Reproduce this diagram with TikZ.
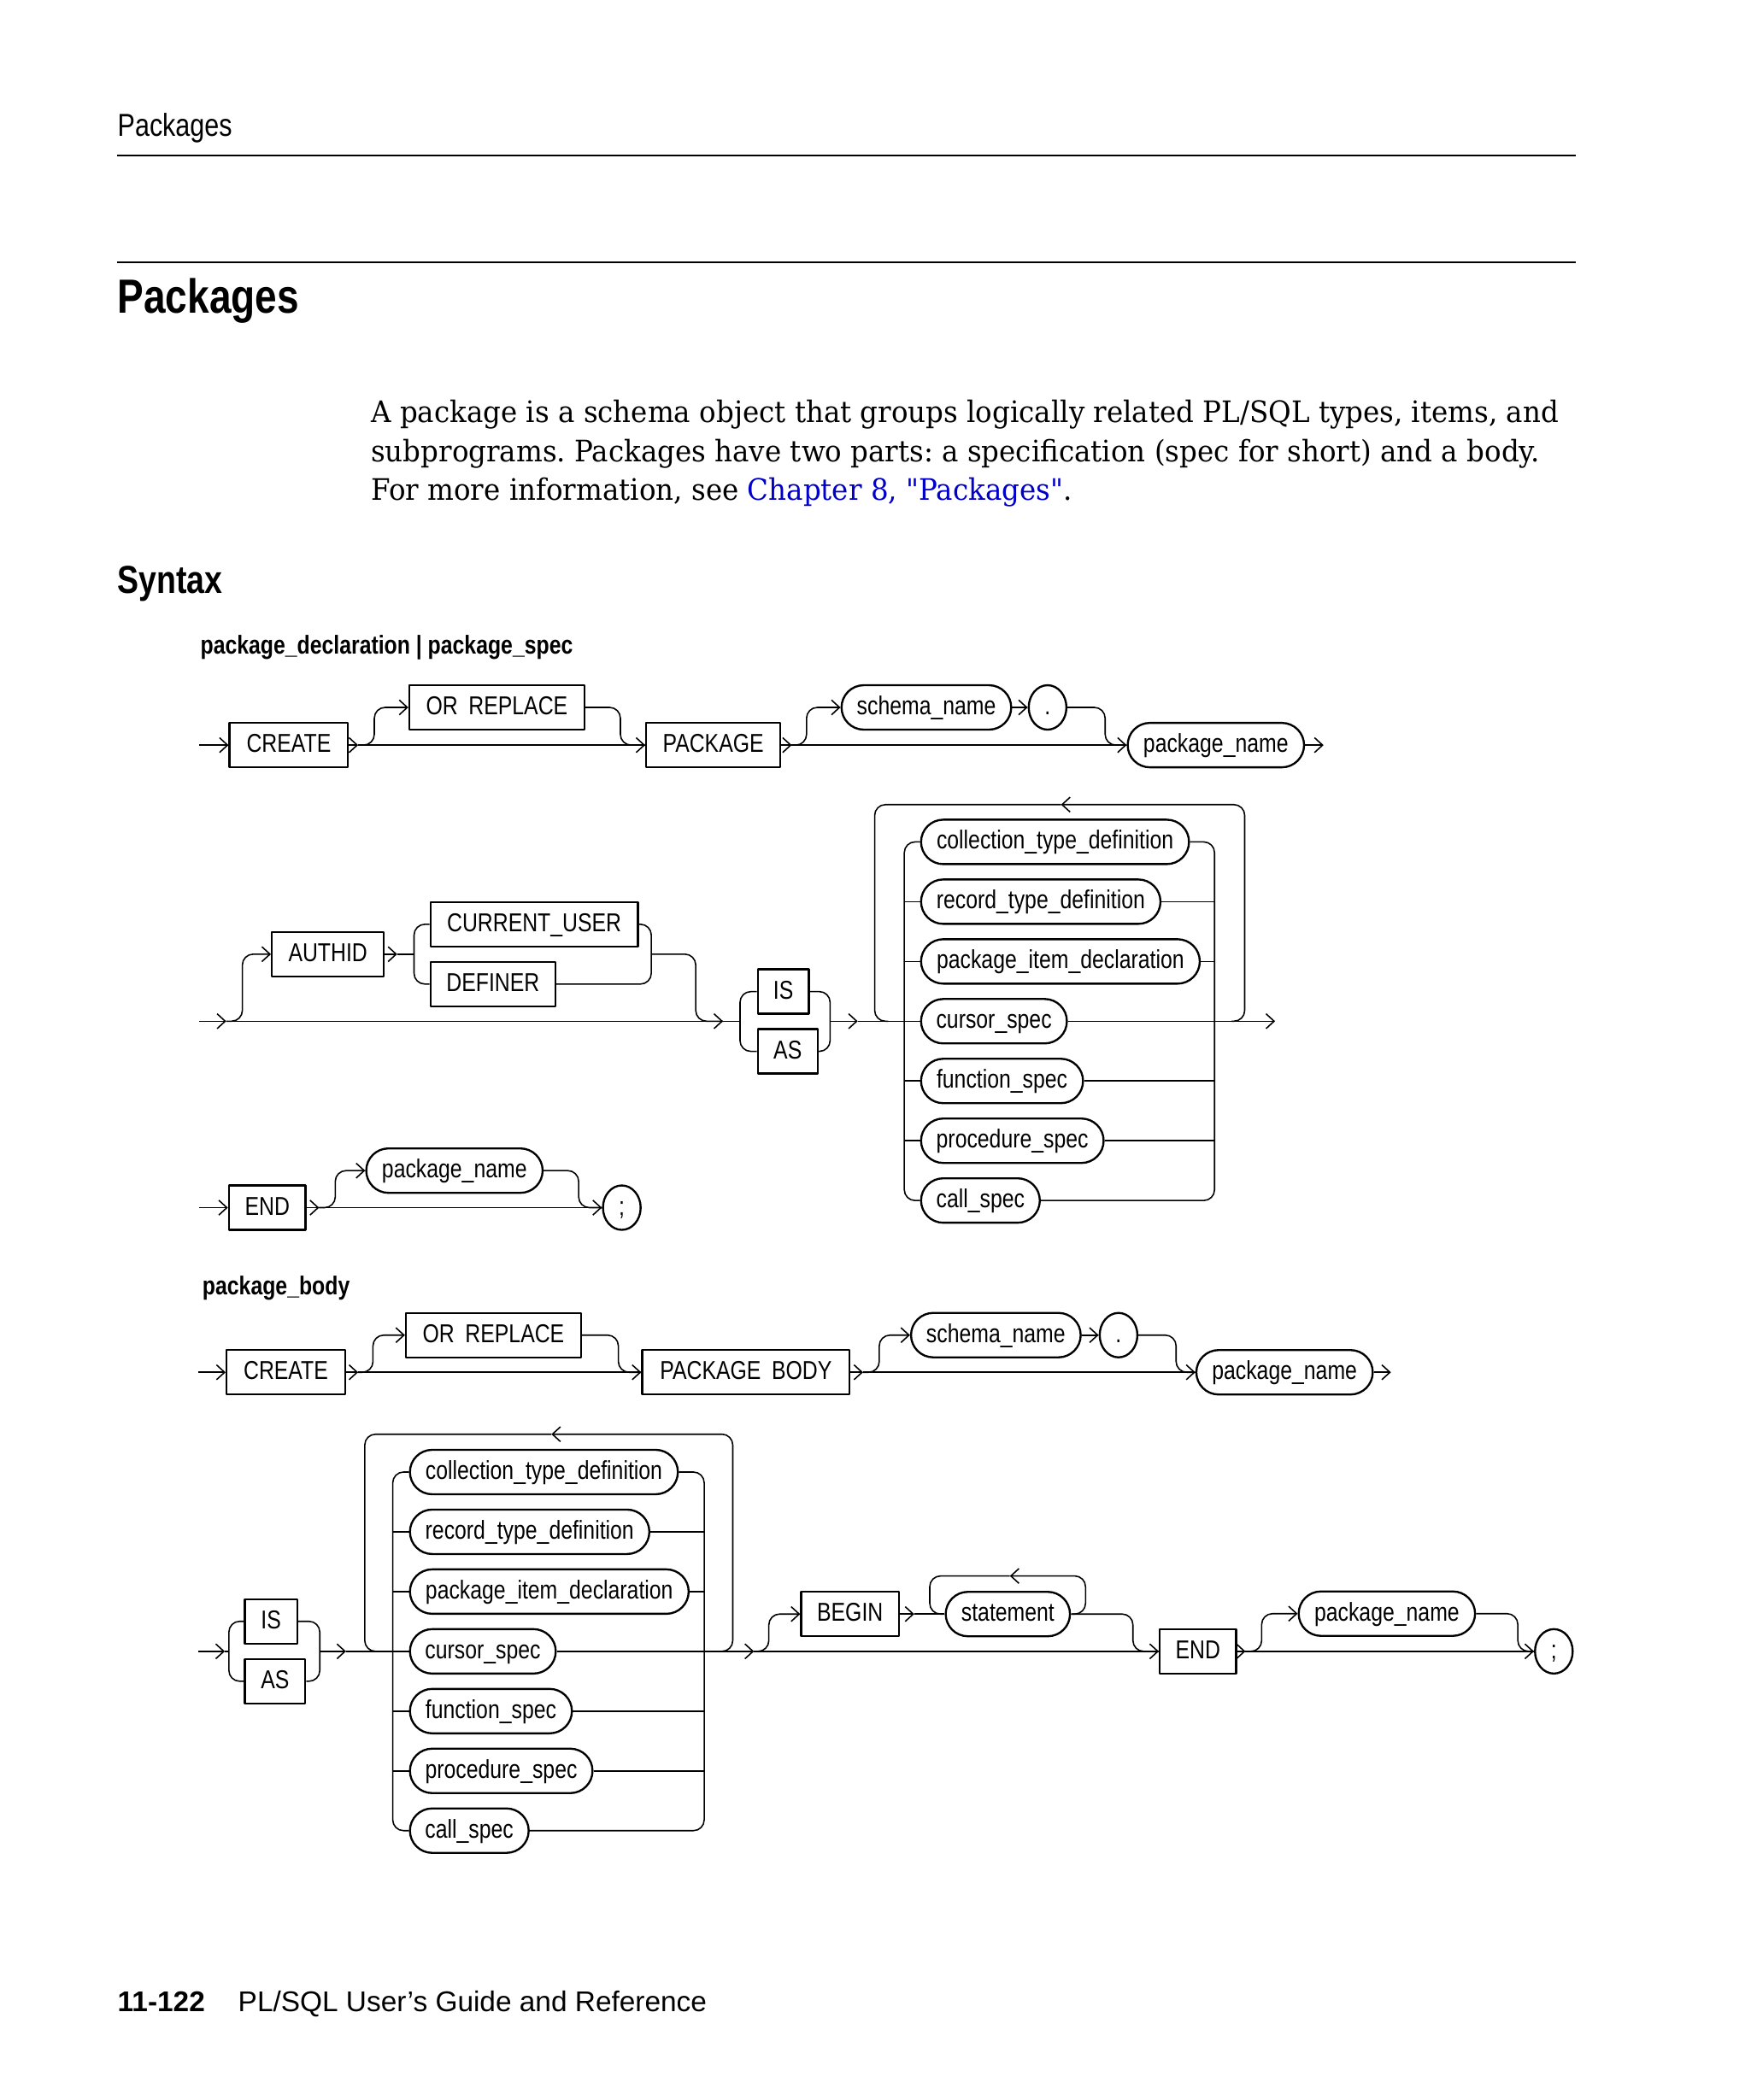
\documentclass[tikz,border=0pt]{standalone}
\usepackage{fontspec}
\setmainfont{Liberation Serif}
\newfontfamily\parafont[FakeStretch=0.938]{DejaVu Serif}
\newfontfamily\narrowfont[FakeStretch=0.82]{Liberation Sans}
\newfontfamily\arialfont{Liberation Sans}
\usetikzlibrary{arrows.meta,shapes.geometric}
\definecolor{linkblue}{RGB}{0,0,200}
\newcommand\dfont{\narrowfont\fontsize{9.6}{11}\selectfont}
\newcommand\pfont{\parafont\fontsize{11}{14.5}\selectfont\frenchspacing}
\begin{document}
\begin{tikzpicture}[x=0.5pt,y=-0.5pt,line join=round,
  kw/.style={draw,line width=0.75pt,minimum height=16.5pt,inner sep=0pt,font=\dfont,text height=6pt,text depth=0.6pt},
  nt/.style={kw,rounded corners=8.25pt},
  ov/.style={kw,ellipse},
  ln/.style={line width=0.5pt,rounded corners=4pt},
  ar/.style={ln,-{Straight Barb[length=3pt,width=5.5pt]}},
  txt/.style={anchor=base west,inner sep=0pt}]
\fill[white] (0,0) rectangle (1300,1560);
\useasboundingbox (0,0) rectangle (1300,1560);

% ---------- page header ----------
\node[txt,font=\narrowfont\fontsize{11.8}{14}\selectfont] (hdr) at (87,101.1) {Packages};
\coordinate (r1a) at (87,115.7); \coordinate (r1b) at (1170,115.7);
\coordinate (r2a) at (87,194.7); \coordinate (r2b) at (1170,194.7);
\draw[line width=0.7pt] (r1a) -- (r1b);
\draw[line width=0.7pt] (r2a) -- (r2b);
\node[txt,font=\narrowfont\bfseries\fontsize{17.8}{20}\selectfont] (head) at (87,232.8) {Packages};
\node[txt,font=\pfont] (p1) at (275.2,313.6) {A package is a schema object that groups logically related PL/SQL types, items, and};
\node[txt,font=\pfont] (p2) at (275.2,342.8) {subprograms. Packages have two parts: a specification (spec for short) and a body.};
\node[txt,font=\pfont] (p3) at (275.2,371.8) {For more information, see \textcolor{linkblue}{Chapter 8, \symbol{34}Packages\symbol{34}}.};
\node[txt,font=\narrowfont\bfseries\fontsize{14.5}{17}\selectfont] (syn) at (87,441) {Syntax};
\node[txt,font=\narrowfont\bfseries\fontsize{9.6}{11}\selectfont] (t1) at (148.5,485.6) {package\_declaration | package\_spec};
\node[txt,font=\narrowfont\bfseries\fontsize{9.6}{11}\selectfont] (t2) at (150,962) {package\_body};

% ---------- diagram 1, row 1 ----------
\node[kw,minimum width=44pt] (create1) at (214.5,553.5) {CREATE};
\node[kw,minimum width=65pt] (orr1) at (369,525.5) {OR\hspace{4pt}REPLACE};
\node[kw,minimum width=49.75pt] (pkg1) at (529.7,553.5) {PACKAGE};
\node[nt,minimum width=63pt] (sch1) at (688,525.5) {schema\_name};
\node[ov,minimum width=14pt] (dot1) at (778,525.5) {.};
\node[nt,minimum width=65.5pt] (pn1) at (903,553.5) {package\_name};
\coordinate (s1) at (148,553.5);
\coordinate (f1) at (266,553.5);
\coordinate (f2) at (588,553.5);
\coordinate (e1) at (983,553.5);
\draw[ar] (s1) -- (create1.west);
\draw[ar] (create1.east) -- (f1);
\draw[ar] (f1) -- (pkg1.west);
\draw[ar] (f1) -- ++(12,0) |- (orr1.west);
\draw[ln] (orr1.east) -- ++(26,0) |- (pkg1.west);
\draw[ar] (pkg1.east) -- (f2);
\draw[ar] (f2) -- (pn1.west);
\draw[ar] (f2) -- ++(11,0) |- (sch1.west);
\draw[ar] (sch1.east) -- (dot1.west);
\draw[ln] (dot1.east) -- ++(28,0) |- (pn1.west);
\draw[ar] (pn1.east) -- (e1);

% ---------- diagram 1, row 2 ----------
\coordinate (s2) at (148,758.6);
\coordinate (f3) at (168,758.6);
\node[kw,minimum width=41.5pt] (auth) at (243.5,708.8) {AUTHID};
\coordinate (f4) at (295,708.8);
\node[kw,anchor=west,minimum width=77pt] (cu) at (319,686.6) {CURRENT\_USER};
\node[kw,anchor=west,minimum width=46.35pt] (def) at (319,731) {DEFINER};
\coordinate (v1) at (307.5,708.8);
\coordinate (v2) at (483.7,708.8);
\coordinate (f5) at (537,758.6);
\node[kw,anchor=west,minimum width=19pt] (is1) at (562,736.6) {IS};
\node[kw,anchor=west,minimum width=22.25pt] (as1) at (562,781) {AS};
\coordinate (v3) at (549.6,758.6);
\coordinate (v4) at (616.5,758.6);
\coordinate (f6) at (637,758.6);
\coordinate (lb1) at (649.6,758.6);
\coordinate (rb1) at (924.4,758.6);
\coordinate (ta1) at (788,597.7);
\coordinate (l1) at (671.6,758.6);
\coordinate (rr1) at (902,758.6);
\coordinate (e2) at (947,758.6);
\node[nt,anchor=west,minimum width=99.5pt] (ctd1) at (683.3,625.4) {collection\_type\_definition};
\node[nt,anchor=west,minimum width=88.9pt] (rtd1) at (683.3,669.8) {record\_type\_definition};
\node[nt,anchor=west,minimum width=103.5pt] (pid1) at (683.3,714.2) {package\_item\_declaration};
\node[nt,anchor=west,minimum width=54.15pt] (cs1) at (683.3,758.6) {cursor\_spec};
\node[nt,anchor=west,minimum width=60.15pt] (fs1) at (683.3,803.0) {function\_spec};
\node[nt,anchor=west,minimum width=67.8pt] (ps1) at (683.3,847.4) {procedure\_spec};
\node[nt,anchor=west,minimum width=44.1pt] (cls1) at (683.3,891.8) {call\_spec};

\draw[ar] (s2) -- (f3);
\draw[ar] (f3) -- (f5);
\draw[ar] (f3) -- ++(12,0) |- (auth.west);
\draw[ar] (auth.east) -- (f4);
\draw[ln] (f4) -- (v1);
\draw[ln] (cu.west) -- (cu.west -| v1) |- (def.west);
\draw[ln] (cu.east) -- (cu.east -| v2) |- (def.east);
\draw[ln] (v2) -- ++(33,0) |- (f5);
\draw[ln] (f5) -- (v3);
\draw[ln] (is1.west) -- (is1.west -| v3) |- (as1.west);
\draw[ln] (is1.east) -- (is1.east -| v4) |- (as1.east);
\draw[ar] (v4) -- (f6);
\draw[ln] (f6) -- (cs1.west);
\draw[ar] (cs1.east) -- (e2);
\draw[ar] ([xshift=-5pt]rb1) -- (rb1) |- (ta1);
\draw[ln] (ta1) -| (lb1) -- ++(10,0);
\draw[ln] (ctd1.west) -- (ctd1.west -| l1) |- (cls1.west);
\draw[ln] (rtd1.west) -- (rtd1.west -| l1);
\draw[ln] (pid1.west) -- (pid1.west -| l1);
\draw[ln] (fs1.west) -- (fs1.west -| l1);
\draw[ln] (ps1.west) -- (ps1.west -| l1);
\draw[ln] (ctd1.east) -- (ctd1.east -| rr1) |- (cls1.east);
\draw[ln] (rtd1.east) -- (rtd1.east -| rr1);
\draw[ln] (pid1.east) -- (pid1.east -| rr1);
\draw[ln] (fs1.east) -- (fs1.east -| rr1);
\draw[ln] (ps1.east) -- (ps1.east -| rr1);

% ---------- diagram 1, row 3 ----------
\coordinate (s3) at (148,897.1);
\node[kw,minimum width=28.5pt] (end1) at (198.5,897.1) {END};
\coordinate (f7) at (237,897.1);
\node[nt,minimum width=65.5pt] (pn2) at (337.5,869.6) {package\_name};
\node[ov,minimum width=14pt] (semi1) at (461.8,897.1) {;};
\draw[ar] (s3) -- (end1.west);
\draw[ar] (end1.east) -- (f7);
\draw[ar] (f7) -- (semi1.west);
\draw[ar] (f7) -- ++(12,0) |- (pn2.west);
\draw[ln] (pn2.east) -- ++(26,0) |- (semi1.west);

% ---------- diagram 2, row 1 ----------
\coordinate (s4) at (147,1019.4);
\node[kw,minimum width=44pt] (create2) at (212.3,1019.4) {CREATE};
\coordinate (f8) at (266,1019.4);
\node[kw,minimum width=65pt] (orr2) at (366.5,991.8) {OR\hspace{4pt}REPLACE};
\node[kw,minimum width=77pt] (pkgb) at (554,1019.4) {PACKAGE\hspace{4pt}BODY};
\coordinate (f9) at (641,1019.4);
\node[nt,minimum width=63pt] (sch2) at (739.6,991.8) {schema\_name};
\node[ov,minimum width=14pt] (dot2) at (830.7,991.8) {.};
\node[nt,minimum width=65.5pt] (pn3) at (954,1019.4) {package\_name};
\coordinate (e3) at (1033,1019.4);
\draw[ar] (s4) -- (create2.west);
\draw[ar] (create2.east) -- (f8);
\draw[ar] (f8) -- (pkgb.west);
\draw[ar] (f8) -- ++(11,0) |- (orr2.west);
\draw[ln] (orr2.east) -- ++(27,0) |- (pkgb.west);
\draw[ar] (pkgb.east) -- (f9);
\draw[ar] (f9) -- (pn3.west);
\draw[ar] (f9) -- ++(12,0) |- (sch2.west);
\draw[ar] (sch2.east) -- (dot2.west);
\draw[ln] (dot2.east) -- ++(28,0) |- (pn3.west);
\draw[ar] (pn3.east) -- (e3);

% ---------- diagram 2, row 2 ----------
\coordinate (s5) at (147,1226.7);
\coordinate (f10) at (167,1226.7);
\node[kw,anchor=west,minimum width=19.5pt] (is2) at (181,1204.4) {IS};
\node[kw,anchor=west,minimum width=22.5pt] (as2) at (181,1248.9) {AS};
\coordinate (v5) at (170,1226.7);
\coordinate (v6) at (237.5,1226.7);
\coordinate (f11) at (257,1226.7);
\coordinate (lb2) at (270.9,1226.7);
\coordinate (rb2) at (544.2,1226.7);
\coordinate (ta2) at (409.5,1065.4);
\coordinate (l2) at (291.7,1226.7);
\coordinate (rr2) at (523,1226.7);
\node[nt,anchor=west,minimum width=99.5pt] (ctd2) at (303.7,1093.5) {collection\_type\_definition};
\node[nt,anchor=west,minimum width=88.9pt] (rtd2) at (303.7,1137.9) {record\_type\_definition};
\node[nt,anchor=west,minimum width=103.5pt] (pid2) at (303.7,1182.3) {package\_item\_declaration};
\node[nt,anchor=west,minimum width=54.15pt] (cs2) at (303.7,1226.7) {cursor\_spec};
\node[nt,anchor=west,minimum width=60.15pt] (fs2) at (303.7,1271.1) {function\_spec};
\node[nt,anchor=west,minimum width=67.8pt] (ps2) at (303.7,1315.5) {procedure\_spec};
\node[nt,anchor=west,minimum width=44.1pt] (cls2) at (303.7,1359.9) {call\_spec};
\coordinate (f12) at (560,1226.7);
\node[kw,minimum width=36.25pt] (begin) at (631.3,1199) {BEGIN};
\coordinate (f13) at (679,1199);
\node[nt,minimum width=46.15pt] (stmt) at (748.5,1199) {statement};
\coordinate (sl) at (690.5,1199);
\coordinate (sr) at (806.2,1199);
\coordinate (ta3) at (750,1170.7);
\node[kw,minimum width=28.3pt] (end2) at (889.7,1226.7) {END};
\coordinate (f14) at (925,1226.7);
\node[nt,minimum width=65.5pt] (pn4) at (1030,1198.7) {package\_name};
\node[ov,minimum width=14pt] (semi2) at (1154,1226.7) {;};

\draw[ar] (s5) -- (f10);
\draw[ln] (f10) -- (v5);
\draw[ln] (is2.west) -- (is2.west -| v5) |- (as2.west);
\draw[ln] (is2.east) -- (is2.east -| v6) |- (as2.east);
\draw[ar] (v6) -- (f11);
\draw[ln] (f11) -- (cs2.west);
\draw[ar] ([xshift=-5pt]rb2) -- (rb2) |- (ta2);
\draw[ln] (ta2) -| (lb2) -- ++(10,0);
\draw[ln] (ctd2.west) -- (ctd2.west -| l2) |- (cls2.west);
\draw[ln] (rtd2.west) -- (rtd2.west -| l2);
\draw[ln] (pid2.west) -- (pid2.west -| l2);
\draw[ln] (fs2.west) -- (fs2.west -| l2);
\draw[ln] (ps2.west) -- (ps2.west -| l2);
\draw[ln] (ctd2.east) -- (ctd2.east -| rr2) |- (cls2.east);
\draw[ln] (rtd2.east) -- (rtd2.east -| rr2);
\draw[ln] (pid2.east) -- (pid2.east -| rr2);
\draw[ln] (fs2.east) -- (fs2.east -| rr2);
\draw[ln] (ps2.east) -- (ps2.east -| rr2);
\draw[ar] (cs2.east) -- (f12);
\draw[ar] (f12) -- (end2.west);
\draw[ar] (f12) -- ++(11,0) |- (begin.west);
\draw[ar] (begin.east) -- (f13);
\draw[ln] (f13) -- (stmt.west);
\draw[ar] ([xshift=-5pt]sr) -- (sr) |- (ta3);
\draw[ln] (ta3) -| (sl) -- ++(10,0);
\draw[ln] (stmt.east) -- ++(46,0) |- (end2.west);
\draw[ar] (end2.east) -- (f14);
\draw[ar] (f14) -- (semi2.west);
\draw[ar] (f14) -- ++(12,0) |- (pn4.west);
\draw[ln] (pn4.east) -- ++(31,0) |- (semi2.west);

% ---------- footer ----------
\node[txt,font=\arialfont\bfseries\fontsize{10.6}{13}\selectfont] (pgno) at (87,1494) {11-122};
\node[txt,font=\arialfont\fontsize{10.6}{13}\selectfont] (book) at (176.5,1494) {PL/SQL User’s Guide and Reference};
\end{tikzpicture}
\end{document}
